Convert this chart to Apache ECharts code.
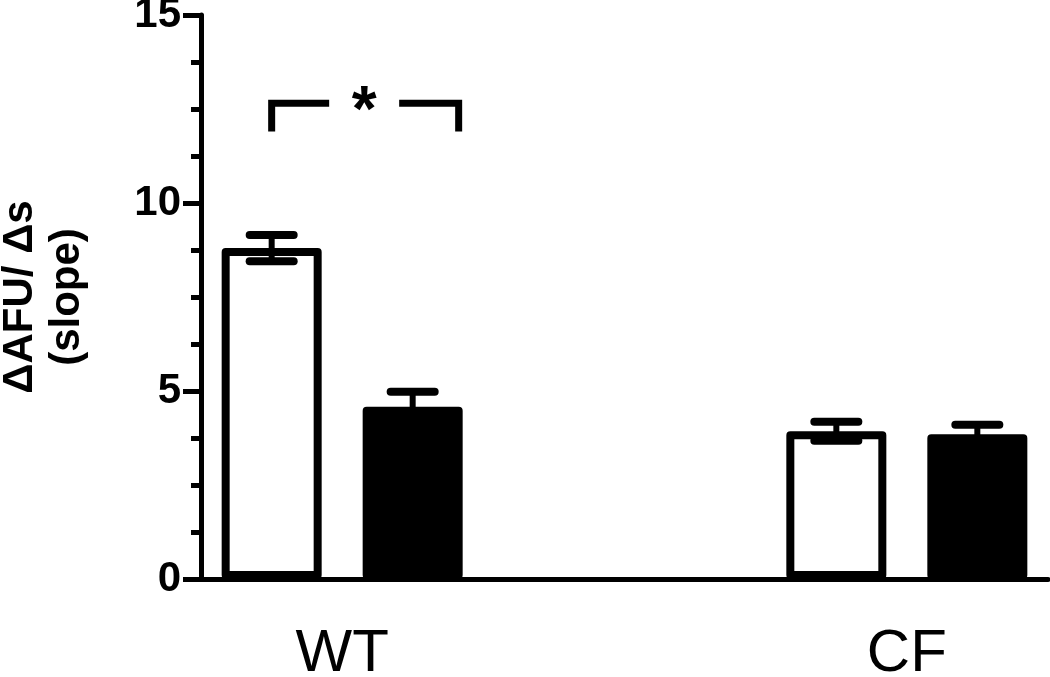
<!DOCTYPE html>
<html>
<head>
<meta charset="utf-8">
<script src="https://cdn.jsdelivr.net/npm/echarts@6/dist/echarts.min.js"></script>
<style>
html,body{margin:0;padding:0;background:#fff;}
#chart{width:1050px;height:677px;}
</style>
</head>
<body>
<div id="chart"></div>
<script>
// ---- data ----
const categories = ['WT', '', 'CF'];
const openMeans = [8.8, null, 3.93];     // white bars
const openErrors = [0.35, null, 0.25];
const filledMeans = [4.58, null, 3.85];  // black bars
const filledErrors = [0.40, null, 0.25];
const yMin = 0, yMax = 15, yInterval = 5;
const yAxisTitle = '\u0394AFU/ \u0394s\n(slope)';
// significance bracket: category index, top value, bottom value, label
const bracketCat = 0;
const bracketTop = 12.65;
const bracketBottom = 11.9;
const bracketLabel = '*';

// ---- style constants ----
const FONT = "'Liberation Sans', Arial, sans-serif";
const BAR_W = 100;
const BAR_GAP = 0.41;
const SEP = BAR_W * (1 + BAR_GAP);   // centre-to-centre distance of paired bars
const BORDER = 8;

function errData(means, errs) {
  const out = [];
  means.forEach((m, i) => { if (m != null) out.push([i, m, errs[i]]); });
  return out;
}

function errRender(sign) {
  return function (params, api) {
    const x = api.value(0), m = api.value(1), e = api.value(2);
    const top = api.coord([x, m + e]);
    const bot = api.coord([x, m - e]);
    const cx = top[0] + sign * SEP / 2;
    const hw = 22;
    const st = { stroke: '#000', lineWidth: 8, lineCap: 'round' };
    return {
      type: 'group',
      children: [
        { type: 'line', shape: { x1: cx, y1: top[1], x2: cx, y2: bot[1] }, style: { stroke: '#000', lineWidth: 6 } },
        { type: 'line', shape: { x1: cx - hw, y1: top[1], x2: cx + hw, y2: top[1] }, style: st },
        { type: 'line', shape: { x1: cx - hw, y1: bot[1], x2: cx + hw, y2: bot[1] }, style: st }
      ]
    };
  };
}

function bracketRender(params, api) {
  const c = api.value(0);
  const pTop = api.coord([c, api.value(1)]);
  const pBot = api.coord([c, api.value(2)]);
  const xl = pTop[0] - SEP / 2;
  const xr = pTop[0] + SEP / 2 + BAR_W / 2 - 4;
  const xm = (xl + xr) / 2 - 1;
  const gap = 35;
  const st = { stroke: '#000', lineWidth: 7, lineJoin: 'miter', lineCap: 'butt', fill: null };
  return {
    type: 'group',
    children: [
      { type: 'polyline', shape: { points: [[xl, pBot[1]], [xl, pTop[1]], [xm - gap, pTop[1]]] }, style: st },
      { type: 'polyline', shape: { points: [[xm + gap, pTop[1]], [xr, pTop[1]], [xr, pBot[1]]] }, style: st },
      { type: 'text', x: xm, y: pTop[1] - 22, style: { text: bracketLabel, font: "bold 64px " + FONT, fill: '#000', align: 'center', verticalAlign: 'top' } }
    ]
  };
}

const chart = echarts.init(document.getElementById('chart'), null, { renderer: 'canvas' });
chart.setOption({
  animation: false,
  backgroundColor: '#fff',
  grid: { left: 201, right: 2, top: 15, bottom: 98, containLabel: false, outerBoundsMode: 'none' },
  xAxis: {
    type: 'category',
    data: categories,
    axisLine: { lineStyle: { color: '#000', width: 5 } },
    axisTick: { show: false },
    axisLabel: { color: '#000', fontSize: 60, fontFamily: FONT, margin: 45, interval: 0 },
    splitLine: { show: false }
  },
  yAxis: {
    type: 'value',
    min: yMin, max: yMax, interval: yInterval,
    name: yAxisTitle,
    nameLocation: 'middle',
    nameGap: 110,
    nameRotate: 90,
    nameTextStyle: { color: '#000', fontSize: 42, fontWeight: 'bold', fontFamily: FONT, lineHeight: 47 },
    axisLine: { show: true, lineStyle: { color: '#000', width: 5 } },
    axisTick: { show: true, length: 18, lineStyle: { color: '#000', width: 5 } },
    minorTick: { show: true, splitNumber: 4, length: 10, lineStyle: { color: '#000', width: 5 } },
    axisLabel: { color: '#000', fontSize: 42, fontWeight: 'bold', fontFamily: FONT, margin: 20 },
    splitLine: { show: false }
  },
  series: [
    {
      type: 'bar', data: openMeans, barWidth: BAR_W, barGap: (BAR_GAP * 100) + '%',
      itemStyle: { color: '#fff', borderColor: '#000', borderWidth: BORDER, borderJoin: 'round' }, z: 2
    },
    {
      type: 'bar', data: filledMeans, barWidth: BAR_W, barGap: (BAR_GAP * 100) + '%',
      itemStyle: { color: '#000', borderColor: '#000', borderWidth: BORDER, borderJoin: 'round' }, z: 2
    },
    { type: 'custom', data: errData(openMeans, openErrors), renderItem: errRender(-1), z: 3 },
    { type: 'custom', data: errData(filledMeans, filledErrors), renderItem: errRender(1), z: 3 },
    { type: 'custom', data: [[bracketCat, bracketTop, bracketBottom]], renderItem: bracketRender, z: 4 }
  ]
});
</script>
</body>
</html>
